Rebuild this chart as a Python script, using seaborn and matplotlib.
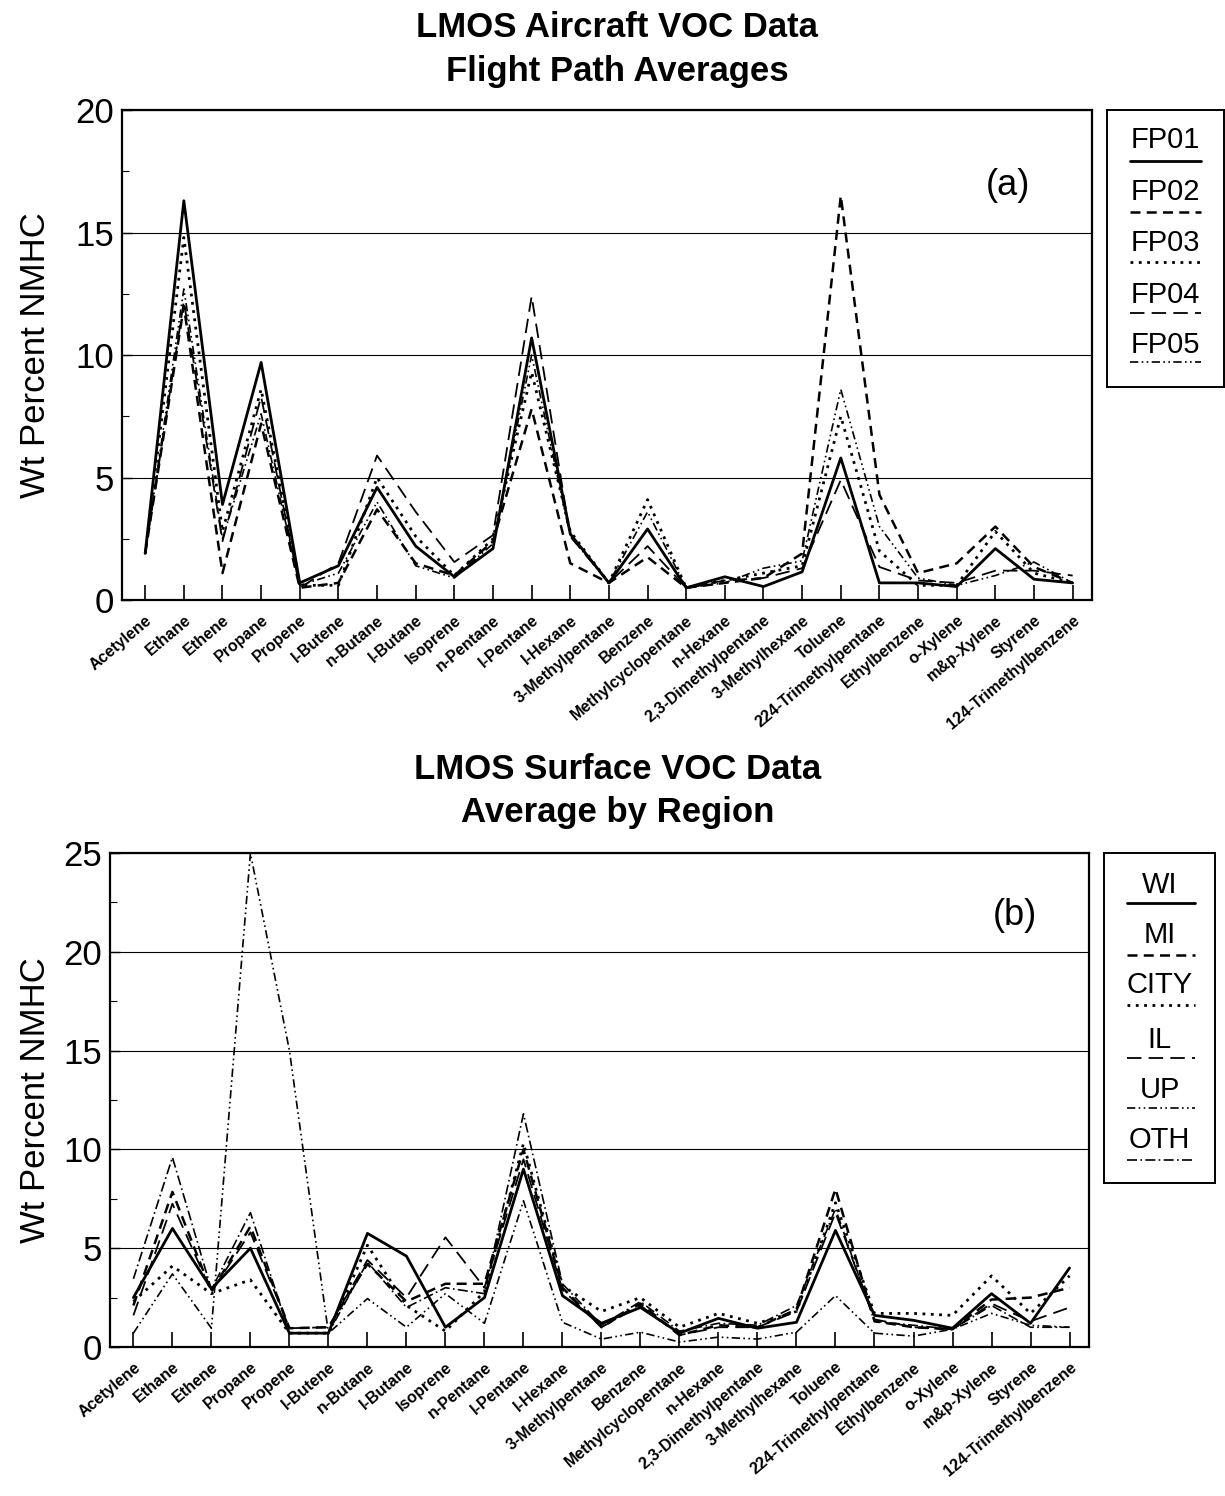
import matplotlib
matplotlib.use("Agg")
import matplotlib.pyplot as plt
from matplotlib.ticker import MultipleLocator
import seaborn as sns

compounds = ["Acetylene", "Ethane", "Ethene", "Propane", "Propene", "I-Butene",
             "n-Butane", "I-Butane", "Isoprene", "n-Pentane", "I-Pentane", "I-Hexane",
             "3-Methylpentane", "Benzene", "Methylcyclopentane", "n-Hexane",
             "2,3-Dimethylpentane", "3-Methylhexane", "Toluene", "224-Trimethylpentane",
             "Ethylbenzene", "o-Xylene", "m&p-Xylene", "Styrene", "124-Trimethylbenzene"]

# (a) aircraft, flight path averages
fp01 = [1.9, 16.3, 3.9, 9.7, 0.7, 1.4, 4.6, 2.2, 0.95, 2.1, 10.7, 2.7, 0.7, 2.9, 0.5,
        0.95, 0.55, 1.15, 5.8, 0.7, 0.7, 0.55, 2.1, 0.85, 0.7]
fp02 = [1.9, 12.0, 1.1, 7.2, 0.5, 0.7, 3.7, 1.5, 1.0, 2.4, 7.8, 1.5, 0.7, 1.75, 0.5,
        0.7, 0.9, 1.9, 16.5, 4.3, 1.1, 1.5, 3.0, 1.35, 0.7]
fp03 = [1.9, 14.8, 2.8, 8.6, 0.6, 0.6, 5.0, 2.6, 1.0, 2.5, 9.3, 2.8, 0.7, 4.1, 0.5,
        0.8, 1.1, 1.4, 7.5, 2.0, 0.6, 0.6, 2.8, 1.1, 0.7]
fp04 = [1.9, 12.2, 2.4, 8.3, 0.5, 1.5, 5.9, 3.6, 1.55, 2.65, 12.4, 2.6, 0.7, 2.2, 0.5,
        0.8, 0.9, 1.3, 4.9, 1.35, 0.8, 0.7, 1.2, 1.2, 1.0]
fp05 = [1.9, 12.7, 2.5, 7.6, 0.6, 1.1, 4.0, 1.4, 0.9, 2.3, 10.0, 2.6, 0.7, 3.6, 0.5,
        0.7, 1.3, 1.6, 8.6, 3.0, 0.9, 0.6, 1.0, 1.55, 0.7]

# (b) surface, average by region
wi = [2.5, 6.0, 2.95, 5.0, 0.7, 0.7, 5.75, 4.6, 1.0, 2.5, 9.0, 2.6, 1.2, 2.0, 0.7,
      1.45, 0.95, 1.25, 5.9, 1.6, 1.35, 0.95, 2.7, 1.2, 4.0]
mi = [2.1, 7.85, 2.8, 6.1, 0.95, 1.0, 4.2, 2.3, 3.2, 3.2, 10.0, 3.0, 1.0, 2.2, 0.6,
      1.1, 1.0, 1.9, 8.0, 1.3, 1.0, 0.9, 2.4, 2.5, 3.0]
city = [2.3, 4.1, 2.7, 3.4, 0.7, 0.7, 5.15, 2.1, 0.8, 2.8, 10.3, 3.1, 1.8, 2.5, 1.0,
        1.7, 1.2, 1.8, 7.3, 1.7, 1.7, 1.6, 3.6, 1.7, 3.6]
il = [1.6, 7.25, 2.8, 5.8, 0.95, 1.0, 4.4, 2.5, 5.55, 3.0, 9.5, 2.9, 1.0, 2.1, 0.6,
      1.0, 1.0, 1.8, 6.8, 1.4, 1.0, 0.9, 2.2, 1.3, 2.0]
up = [0.7, 3.7, 0.95, 25.0, 15.0, 0.7, 2.45, 1.0, 2.7, 1.2, 7.4, 1.25, 0.4, 0.75, 0.25,
      0.5, 0.4, 0.75, 2.6, 0.7, 0.55, 0.9, 1.7, 1.1, 1.0]
oth = [3.45, 9.6, 2.9, 6.8, 0.7, 0.7, 4.3, 2.0, 3.0, 2.7, 11.8, 3.2, 1.1, 2.3, 0.8,
       1.2, 1.1, 2.1, 7.0, 1.3, 1.1, 0.9, 2.1, 1.0, 1.0]

# line styles (dash pattern, width)
SOLID = ("-", 2.0)
DASH = ((0, (4, 2.5)), 1.8)
DOT = ((0, (1, 2)), 2.0)
LONGDASH = ((0, (8, 4)), 1.3)
DASHDOT = ((0, (6, 2, 1, 2)), 1.2)
DASHDOTDOT = ((0, (5, 2, 1, 2, 1, 2)), 1.2)

series_a = [("FP01", fp01, SOLID), ("FP02", fp02, DASH), ("FP03", fp03, DOT),
            ("FP04", fp04, LONGDASH), ("FP05", fp05, DASHDOTDOT)]
series_b = [("WI", wi, SOLID), ("MI", mi, DASH), ("CITY", city, DOT),
            ("IL", il, LONGDASH), ("UP", up, DASHDOTDOT), ("OTH", oth, DASHDOT)]

sns.set_style("ticks")
plt.rcParams["font.family"] = ["Liberation Sans", "DejaVu Sans"]
for key in ["text.color", "axes.labelcolor", "xtick.color", "ytick.color", "axes.edgecolor"]:
    plt.rcParams[key] = "black"

fig = plt.figure(figsize=(12.25, 14.96), dpi=100)


def draw_panel(rect, series, ymax, tag, tag_xy):
    ax = fig.add_axes(rect)
    for name, vals, (ls, lw) in series:
        sns.lineplot(x=compounds, y=vals, ax=ax, color="black", linestyle=ls,
                     lw=lw, sort=False, legend=False)
    ax.set_xlim(-0.6, len(compounds) - 0.5)
    ax.set_ylim(0, ymax)
    ax.yaxis.set_major_locator(MultipleLocator(5))
    ax.yaxis.set_minor_locator(MultipleLocator(2.5))
    ax.yaxis.grid(True, color="black", lw=0.8)
    ax.set_axisbelow(True)
    ax.set_xticks(range(len(compounds)))
    ax.set_xticklabels(compounds, rotation=40, ha="right", rotation_mode="anchor",
                       fontsize=11.5, fontweight="bold")
    ax.tick_params(axis="x", direction="in", length=11, width=1.2, pad=9)
    ax.tick_params(axis="y", which="major", direction="in", length=7, width=1.0,
                   labelsize=25, pad=6)
    ax.tick_params(axis="y", which="minor", direction="in", length=5, width=0.8)
    for s in ax.spines.values():
        s.set_linewidth(1.6)
    ax.set_xlabel("")
    ax.set_ylabel("Wt Percent NMHC", fontsize=25)
    ax.text(tag_xy[0], tag_xy[1], tag, transform=ax.transAxes, fontsize=26,
            ha="center", va="center")
    return ax


def draw_legend(rect, series, text_y, line_y, x0, x1):
    lg = fig.add_axes(rect)
    lg.set_xlim(0, 1)
    lg.set_ylim(0, 1)
    lg.set_xticks([])
    lg.set_yticks([])
    for s in lg.spines.values():
        s.set_linewidth(1.4)
    for (name, vals, (ls, lw)), ty, ly in zip(series, text_y, line_y):
        lg.text(0.5, ty, name, ha="center", va="center", fontsize=21)
        lg.plot([x0, x1], [ly, ly], color="black", linestyle=ls, lw=lw)


ax_a = draw_panel([0.0996, 0.5989, 0.7918, 0.3275], series_a, 20, "(a)", (0.913, 0.847))
ax_a.yaxis.set_label_coords(-0.072, 0.5)
ax_b = draw_panel([0.0898, 0.0996, 0.7992, 0.3302], series_b, 25, "(b)", (0.924, 0.874))
ax_b.yaxis.set_label_coords(-0.059, 0.5)

draw_legend([0.9037, 0.7413, 0.0955, 0.1852], series_a,
            [0.892, 0.704, 0.52, 0.332, 0.152], [0.816, 0.632, 0.451, 0.267, 0.09],
            0.2, 0.8)
draw_legend([0.9012, 0.2092, 0.0906, 0.2206], series_b,
            [0.903, 0.752, 0.6, 0.433, 0.282, 0.13],
            [0.848, 0.691, 0.539, 0.379, 0.227, 0.07], 0.21, 0.82)

fig.text(0.504, 0.9813, "LMOS Aircraft VOC Data", ha="center", va="center",
         fontsize=25, fontweight="bold")
fig.text(0.504, 0.9519, "Flight Path Averages", ha="center", va="center",
         fontsize=25, fontweight="bold")
fig.text(0.504, 0.4853, "LMOS Surface VOC Data", ha="center", va="center",
         fontsize=25, fontweight="bold")
fig.text(0.504, 0.4566, "Average by Region", ha="center", va="center",
         fontsize=25, fontweight="bold")

fig.savefig("out.png", dpi=100, facecolor="white")
plt.close(fig)
